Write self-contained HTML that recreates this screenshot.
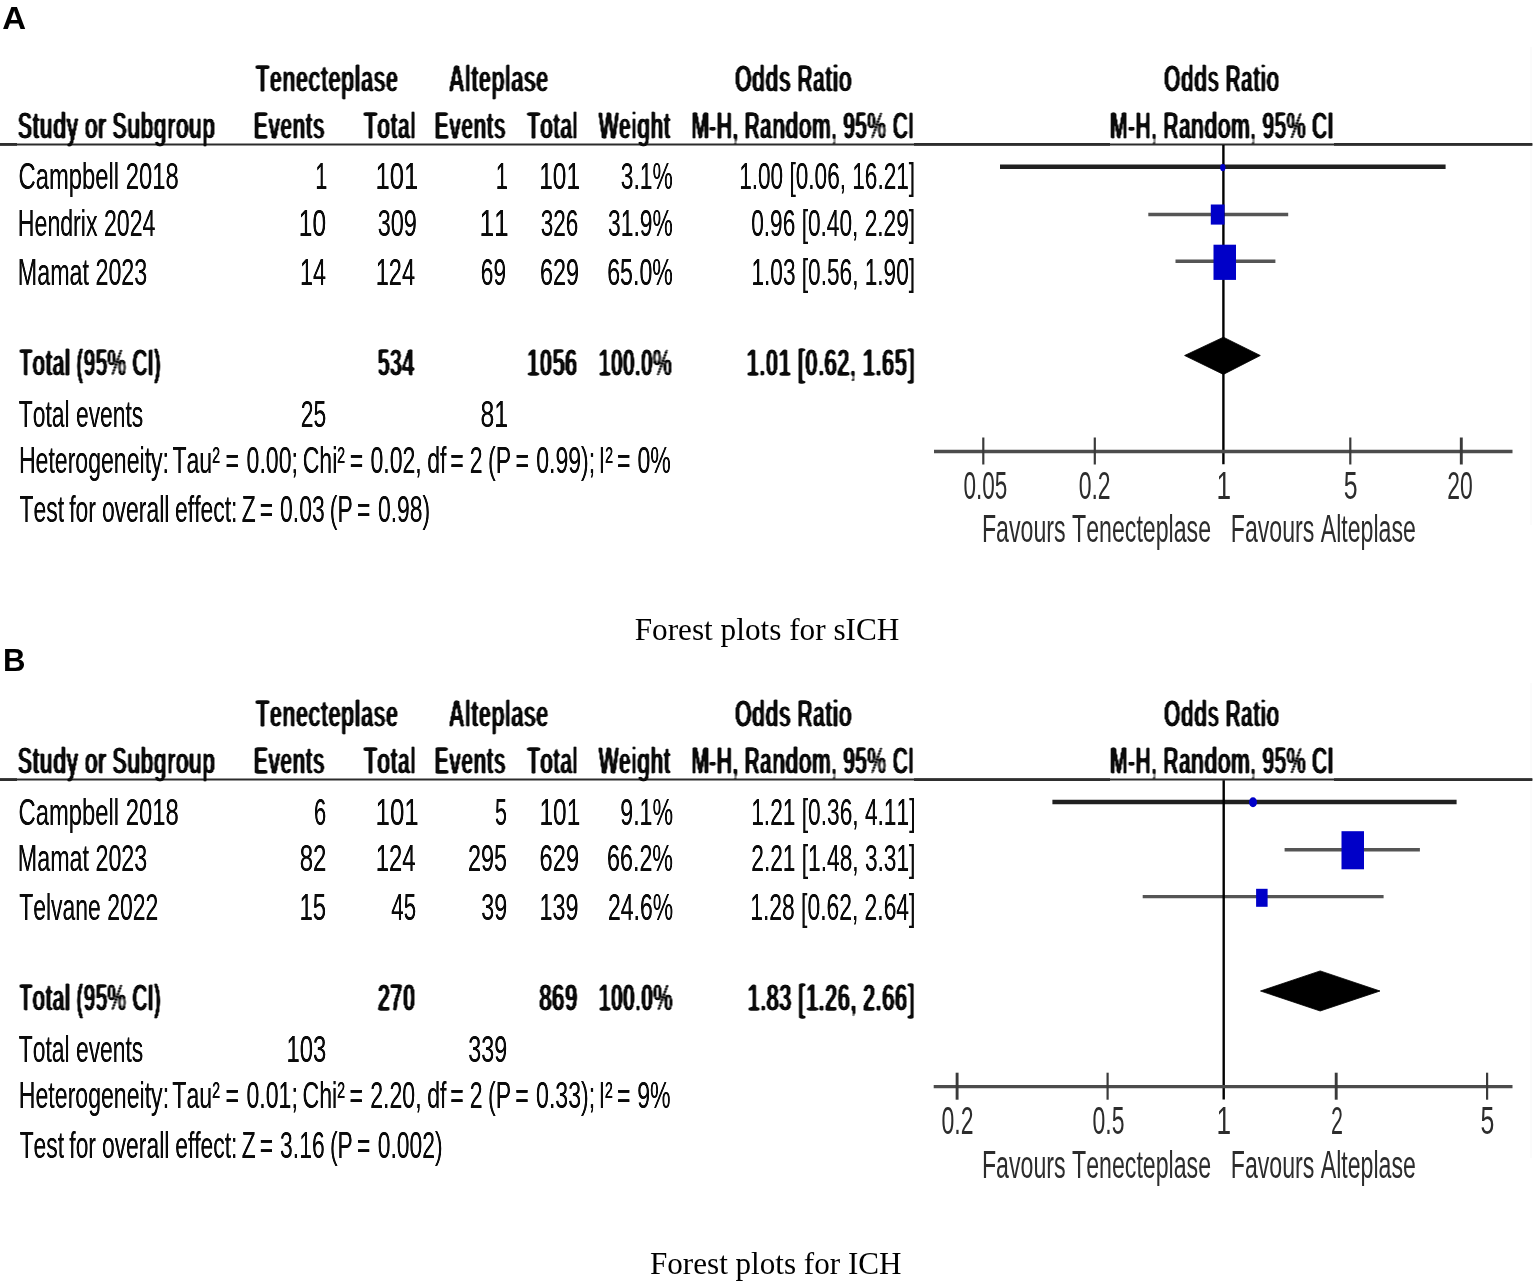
<!DOCTYPE html>
<html lang="en"><head><meta charset="utf-8"><title>Forest plots for sICH and ICH</title>
<style>
html,body{margin:0;padding:0;background:#fff;}
body{width:1535px;height:1284px;overflow:hidden;}
svg{display:block;}
text{font-kerning:none;font-variant-ligatures:none;white-space:pre;}
.r{font-family:"Liberation Sans",Arial,Helvetica,sans-serif;font-weight:400;}
.b{font-family:"Liberation Sans",Arial,Helvetica,sans-serif;font-weight:700;}
.s{font-family:"Liberation Serif","Times New Roman",Times,serif;font-weight:400;}
</style></head>
<body>
<svg width="1535" height="1284" viewBox="0 0 1535 1284">
<defs>
<filter id="fr" x="0" y="0" width="1535" height="1284" filterUnits="userSpaceOnUse" color-interpolation-filters="sRGB">
<feGaussianBlur stdDeviation="0.7 0.25"/>
<feComponentTransfer><feFuncA type="linear" slope="1.3" intercept="0"/></feComponentTransfer>
<feGaussianBlur stdDeviation="0.65"/>
</filter>
<filter id="fb" x="0" y="0" width="1535" height="1284" filterUnits="userSpaceOnUse" color-interpolation-filters="sRGB">
<feGaussianBlur stdDeviation="0 0.8"/>
<feComponentTransfer><feFuncA type="linear" slope="2.5" intercept="-1.2"/></feComponentTransfer>
<feGaussianBlur stdDeviation="0.8 0"/>
<feComponentTransfer><feFuncA type="linear" slope="2.2" intercept="-0.27"/></feComponentTransfer>
<feGaussianBlur stdDeviation="0.65"/>
</filter>
<filter id="fg" x="0" y="0" width="1535" height="1284" filterUnits="userSpaceOnUse" color-interpolation-filters="sRGB">
<feGaussianBlur stdDeviation="0.7"/>
</filter>
<filter id="fl" x="0" y="0" width="1535" height="1284" filterUnits="userSpaceOnUse" color-interpolation-filters="sRGB">
<feGaussianBlur stdDeviation="0.55"/>
</filter>
</defs>
<rect x="0" y="0" width="1535" height="1284" fill="#ffffff"/>
<g id="graphics" filter="url(#fg)">
<rect x="1530.0" y="47.0" width="2.0" height="478.0" fill="#fbfbfb"/>
<rect x="1530.0" y="683.0" width="2.0" height="475.0" fill="#fbfbfb"/>
<line x1="0.0" y1="144.4" x2="1532.3" y2="144.4" stroke="#2c2c2c" stroke-width="2.0"/>
<line x1="0.0" y1="144.4" x2="17.0" y2="144.4" stroke="#2e2e2e" stroke-width="2.8"/>
<line x1="914.0" y1="144.4" x2="1110.0" y2="144.4" stroke="#2e2e2e" stroke-width="2.8"/>
<line x1="1334.0" y1="144.4" x2="1532.3" y2="144.4" stroke="#2e2e2e" stroke-width="2.8"/>
<line x1="1000.0" y1="166.7" x2="1445.6" y2="166.7" stroke="#202020" stroke-width="4.4"/>
<line x1="1148.3" y1="214.5" x2="1288.2" y2="214.5" stroke="#555555" stroke-width="3.4"/>
<line x1="1175.5" y1="261.2" x2="1275.4" y2="261.2" stroke="#555555" stroke-width="3.4"/>
<line x1="1223.4" y1="145.0" x2="1223.4" y2="464.3" stroke="#000000" stroke-width="2.4"/>
<line x1="934.0" y1="451.5" x2="1512.5" y2="451.5" stroke="#4c4c4c" stroke-width="3.3"/>
<line x1="983.3" y1="437.5" x2="983.3" y2="464.5" stroke="#3a3a3a" stroke-width="2.2"/>
<line x1="1094.8" y1="437.5" x2="1094.8" y2="464.5" stroke="#3a3a3a" stroke-width="2.2"/>
<line x1="1350.3" y1="437.5" x2="1350.3" y2="464.5" stroke="#3a3a3a" stroke-width="2.2"/>
<line x1="1461.3" y1="437.5" x2="1461.3" y2="464.5" stroke="#3a3a3a" stroke-width="2.9"/>
<ellipse cx="1222.8" cy="167.6" rx="2.7" ry="3.6" fill="#0000c8"/>
<rect x="1210.8" y="204.5" width="13.7" height="20.1" fill="#0000c8"/>
<rect x="1213.5" y="244.7" width="22.5" height="35.2" fill="#0000c8"/>
<polygon points="1184.6,355.5 1223.4,337.2 1260.3,355.5 1223.4,374.4" fill="#000" stroke="#000" stroke-width="0.8" stroke-linejoin="round"/>
<line x1="0.0" y1="779.6" x2="1532.3" y2="779.6" stroke="#2c2c2c" stroke-width="2.0"/>
<line x1="0.0" y1="779.6" x2="17.0" y2="779.6" stroke="#2e2e2e" stroke-width="2.8"/>
<line x1="914.0" y1="779.6" x2="1110.0" y2="779.6" stroke="#2e2e2e" stroke-width="2.8"/>
<line x1="1334.0" y1="779.6" x2="1532.3" y2="779.6" stroke="#2e2e2e" stroke-width="2.8"/>
<line x1="1052.4" y1="802.0" x2="1456.6" y2="802.0" stroke="#202020" stroke-width="4.4"/>
<line x1="1284.6" y1="849.7" x2="1419.9" y2="849.7" stroke="#555555" stroke-width="3.4"/>
<line x1="1142.7" y1="896.6" x2="1383.6" y2="896.6" stroke="#555555" stroke-width="3.4"/>
<line x1="1223.7" y1="780.2" x2="1223.7" y2="1099.5" stroke="#000000" stroke-width="2.4"/>
<line x1="933.7" y1="1086.7" x2="1512.5" y2="1086.7" stroke="#4c4c4c" stroke-width="3.3"/>
<line x1="957.1" y1="1072.7" x2="957.1" y2="1099.7" stroke="#3a3a3a" stroke-width="2.9"/>
<line x1="1107.6" y1="1072.7" x2="1107.6" y2="1099.7" stroke="#3a3a3a" stroke-width="2.2"/>
<line x1="1336.2" y1="1072.7" x2="1336.2" y2="1099.7" stroke="#3a3a3a" stroke-width="2.9"/>
<line x1="1487.1" y1="1072.7" x2="1487.1" y2="1099.7" stroke="#3a3a3a" stroke-width="2.2"/>
<ellipse cx="1253" cy="802.3" rx="4" ry="5" fill="#0000c8"/>
<rect x="1341.5" y="831.2" width="22.5" height="38.1" fill="#0000c8"/>
<rect x="1256.1" y="888.8" width="11.5" height="18.0" fill="#0000c8"/>
<polygon points="1260.5,991 1320.2,970.9 1380,991 1320.2,1011" fill="#000" stroke="#000" stroke-width="0.8" stroke-linejoin="round"/>
</g>
<g id="labels-regular" filter="url(#fr)">
<text class="r" font-size="37.6" fill="#0b0b0b" transform="translate(18.51 189.40) scale(0.6337 1)">Campbell 2018</text>
<text class="r" font-size="37.6" fill="#0b0b0b" transform="translate(315.33 189.40) scale(0.5791 1)">1</text>
<text class="r" font-size="37.6" fill="#0b0b0b" transform="translate(375.57 189.40) scale(0.6815 1)">101</text>
<text class="r" font-size="37.6" fill="#0b0b0b" transform="translate(495.63 189.40) scale(0.5791 1)">1</text>
<text class="r" font-size="37.6" fill="#0b0b0b" transform="translate(539.28 189.40) scale(0.6502 1)">101</text>
<text class="r" font-size="37.6" fill="#0b0b0b" transform="translate(620.79 189.40) scale(0.6079 1)">3.1%</text>
<text class="r" font-size="37.6" fill="#0b0b0b" transform="translate(739.15 189.40) scale(0.6014 1)">1.00 [0.06, 16.21]</text>
<text class="r" font-size="37.6" fill="#0b0b0b" transform="translate(17.85 235.90) scale(0.6149 1)">Hendrix 2024</text>
<text class="r" font-size="37.6" fill="#0b0b0b" transform="translate(298.87 235.90) scale(0.6513 1)">10</text>
<text class="r" font-size="37.6" fill="#0b0b0b" transform="translate(377.66 235.90) scale(0.6245 1)">309</text>
<text class="r" font-size="37.6" fill="#0b0b0b" transform="translate(479.50 235.90) scale(0.6988 1)">11</text>
<text class="r" font-size="37.6" fill="#0b0b0b" transform="translate(540.70 235.90) scale(0.5990 1)">326</text>
<text class="r" font-size="37.6" fill="#0b0b0b" transform="translate(608.09 235.90) scale(0.6080 1)">31.9%</text>
<text class="r" font-size="37.6" fill="#0b0b0b" transform="translate(751.19 235.90) scale(0.6033 1)">0.96 [0.40, 2.29]</text>
<text class="r" font-size="37.6" fill="#0b0b0b" transform="translate(17.84 284.60) scale(0.6194 1)">Mamat 2023</text>
<text class="r" font-size="37.6" fill="#0b0b0b" transform="translate(299.98 284.60) scale(0.6210 1)">14</text>
<text class="r" font-size="37.6" fill="#0b0b0b" transform="translate(375.76 284.60) scale(0.6269 1)">124</text>
<text class="r" font-size="37.6" fill="#0b0b0b" transform="translate(480.87 284.60) scale(0.6027 1)">69</text>
<text class="r" font-size="37.6" fill="#0b0b0b" transform="translate(540.03 284.60) scale(0.6217 1)">629</text>
<text class="r" font-size="37.6" fill="#0b0b0b" transform="translate(607.24 284.60) scale(0.6161 1)">65.0%</text>
<text class="r" font-size="37.6" fill="#0b0b0b" transform="translate(751.45 284.60) scale(0.6024 1)">1.03 [0.56, 1.90]</text>
<text class="r" font-size="37.6" fill="#0b0b0b" transform="translate(18.74 426.60) scale(0.6084 1)">Total events</text>
<text class="r" font-size="37.6" fill="#0b0b0b" transform="translate(300.65 426.60) scale(0.6101 1)">25</text>
<text class="r" font-size="37.6" fill="#0b0b0b" transform="translate(480.49 426.60) scale(0.6579 1)">81</text>
<text class="r" font-size="37.6" fill="#0b0b0b" transform="translate(18.51 824.60) scale(0.6337 1)">Campbell 2018</text>
<text class="r" font-size="37.6" fill="#0b0b0b" transform="translate(313.90 824.60) scale(0.5834 1)">6</text>
<text class="r" font-size="37.6" fill="#0b0b0b" transform="translate(375.54 824.60) scale(0.6874 1)">101</text>
<text class="r" font-size="37.6" fill="#0b0b0b" transform="translate(494.94 824.60) scale(0.5711 1)">5</text>
<text class="r" font-size="37.6" fill="#0b0b0b" transform="translate(539.48 824.60) scale(0.6502 1)">101</text>
<text class="r" font-size="37.6" fill="#0b0b0b" transform="translate(620.26 824.60) scale(0.6165 1)">9.1%</text>
<text class="r" font-size="37.6" fill="#0b0b0b" transform="translate(751.24 824.60) scale(0.6046 1)">1.21 [0.36, 4.11]</text>
<text class="r" font-size="37.6" fill="#0b0b0b" transform="translate(17.84 871.10) scale(0.6194 1)">Mamat 2023</text>
<text class="r" font-size="37.6" fill="#0b0b0b" transform="translate(299.72 871.10) scale(0.6393 1)">82</text>
<text class="r" font-size="37.6" fill="#0b0b0b" transform="translate(375.74 871.10) scale(0.6338 1)">124</text>
<text class="r" font-size="37.6" fill="#0b0b0b" transform="translate(468.03 871.10) scale(0.6214 1)">295</text>
<text class="r" font-size="37.6" fill="#0b0b0b" transform="translate(539.62 871.10) scale(0.6285 1)">629</text>
<text class="r" font-size="37.6" fill="#0b0b0b" transform="translate(607.03 871.10) scale(0.6199 1)">66.2%</text>
<text class="r" font-size="37.6" fill="#0b0b0b" transform="translate(751.26 871.10) scale(0.6042 1)">2.21 [1.48, 3.31]</text>
<text class="r" font-size="37.6" fill="#0b0b0b" transform="translate(19.24 919.80) scale(0.6101 1)">Telvane 2022</text>
<text class="r" font-size="37.6" fill="#0b0b0b" transform="translate(299.52 919.80) scale(0.6383 1)">15</text>
<text class="r" font-size="37.6" fill="#0b0b0b" transform="translate(391.25 919.80) scale(0.5927 1)">45</text>
<text class="r" font-size="37.6" fill="#0b0b0b" transform="translate(481.17 919.80) scale(0.6201 1)">39</text>
<text class="r" font-size="37.6" fill="#0b0b0b" transform="translate(539.58 919.80) scale(0.6226 1)">139</text>
<text class="r" font-size="37.6" fill="#0b0b0b" transform="translate(608.05 919.80) scale(0.6103 1)">24.6%</text>
<text class="r" font-size="37.6" fill="#0b0b0b" transform="translate(750.23 919.80) scale(0.6080 1)">1.28 [0.62, 2.64]</text>
<text class="r" font-size="37.6" fill="#0b0b0b" transform="translate(18.74 1061.80) scale(0.6084 1)">Total events</text>
<text class="r" font-size="37.6" fill="#0b0b0b" transform="translate(286.43 1061.80) scale(0.6345 1)">103</text>
<text class="r" font-size="37.6" fill="#0b0b0b" transform="translate(468.27 1061.80) scale(0.6194 1)">339</text>
<text class="r" font-size="37.6" fill="#0b0b0b" transform="translate(0 473.00) scale(0.6139 1)"><tspan x="30.87">Heterogeneity:</tspan> <tspan x="280.81">Tau²</tspan> <tspan x="367.43">=</tspan> <tspan x="401.64">0.00;</tspan> <tspan x="492.99">Chi²</tspan> <tspan x="569.59">=</tspan> <tspan x="603.40">0.02,</tspan> <tspan x="695.93">df</tspan> <tspan x="733.56">=</tspan> <tspan x="765.32">2</tspan> <tspan x="795.04">(P</tspan> <tspan x="839.61">=</tspan> <tspan x="873.46">0.99);</tspan> <tspan x="975.38">I²</tspan> <tspan x="1005.12">=</tspan> <tspan x="1038.30">0%</tspan></text>
<text class="r" font-size="37.6" fill="#0b0b0b" transform="translate(0 522.40) scale(0.6094 1)"><tspan x="32.16">Test</tspan> <tspan x="113.63">for</tspan> <tspan x="167.19">overall</tspan> <tspan x="287.33">effect:</tspan> <tspan x="396.69">Z</tspan> <tspan x="426.29">=</tspan> <tspan x="459.54">0.03</tspan> <tspan x="541.28">(P</tspan> <tspan x="585.70">=</tspan> <tspan x="620.26">0.98)</tspan></text>
<text class="r" font-size="37.6" fill="#0b0b0b" transform="translate(0 1108.20) scale(0.6147 1)"><tspan x="30.65">Heterogeneity:</tspan> <tspan x="280.35">Tau²</tspan> <tspan x="366.89">=</tspan> <tspan x="401.01">0.01;</tspan> <tspan x="492.24">Chi²</tspan> <tspan x="568.76">=</tspan> <tspan x="602.29">2.20,</tspan> <tspan x="694.91">df</tspan> <tspan x="732.49">=</tspan> <tspan x="764.21">2</tspan> <tspan x="793.88">(P</tspan> <tspan x="838.39">=</tspan> <tspan x="872.15">0.33);</tspan> <tspan x="973.97">I²</tspan> <tspan x="1003.66">=</tspan> <tspan x="1036.68">9%</tspan></text>
<text class="r" font-size="37.6" fill="#0b0b0b" transform="translate(0 1157.60) scale(0.6080 1)"><tspan x="32.32">Test</tspan> <tspan x="113.95">for</tspan> <tspan x="167.71">overall</tspan> <tspan x="288.12">effect:</tspan> <tspan x="397.65">Z</tspan> <tspan x="427.31">=</tspan> <tspan x="460.71">3.16</tspan> <tspan x="542.59">(P</tspan> <tspan x="587.09">=</tspan> <tspan x="621.24">0.002)</tspan></text>
</g>
<g id="labels-bold" filter="url(#fb)">
<text class="b" font-size="38.916" fill="#0b0b0b" transform="translate(255.78 91.50) scale(0.5781 1)">Tenecteplase</text>
<text class="b" font-size="38.916" fill="#0b0b0b" transform="translate(448.44 91.50) scale(0.5790 1)">Alteplase</text>
<text class="b" font-size="38.916" fill="#0b0b0b" transform="translate(734.72 91.50) scale(0.5648 1)">Odds Ratio</text>
<text class="b" font-size="38.916" fill="#0b0b0b" transform="translate(1163.83 91.50) scale(0.5570 1)">Odds Ratio</text>
<text class="b" font-size="38.916" fill="#0b0b0b" transform="translate(17.74 138.50) scale(0.5611 1)">Study or Subgroup</text>
<text class="b" font-size="38.916" fill="#0b0b0b" transform="translate(253.69 138.50) scale(0.5576 1)">Events</text>
<text class="b" font-size="38.916" fill="#0b0b0b" transform="translate(363.68 138.50) scale(0.5640 1)">Total</text>
<text class="b" font-size="38.916" fill="#0b0b0b" transform="translate(434.59 138.50) scale(0.5576 1)">Events</text>
<text class="b" font-size="38.916" fill="#0b0b0b" transform="translate(526.89 138.50) scale(0.5506 1)">Total</text>
<text class="b" font-size="38.916" fill="#0b0b0b" transform="translate(598.40 138.50) scale(0.5573 1)">Weight</text>
<text class="b" font-size="38.916" fill="#0b0b0b" transform="translate(691.19 138.50) scale(0.5572 1)">M-H, Random, 95% CI</text>
<text class="b" font-size="38.916" fill="#0b0b0b" transform="translate(1109.78 138.50) scale(0.5600 1)">M-H, Random, 95% CI</text>
<text class="b" font-size="38.916" fill="#0b0b0b" transform="translate(19.19 375.90) scale(0.5508 1)">Total (95% CI)</text>
<text class="b" font-size="38.916" fill="#0b0b0b" transform="translate(377.54 375.90) scale(0.5660 1)">534</text>
<text class="b" font-size="38.916" fill="#0b0b0b" transform="translate(526.82 375.90) scale(0.5853 1)">1056</text>
<text class="b" font-size="38.916" fill="#0b0b0b" transform="translate(598.59 375.90) scale(0.5575 1)">100.0%</text>
<text class="b" font-size="38.916" fill="#0b0b0b" transform="translate(746.31 375.90) scale(0.5909 1)">1.01 [0.62, 1.65]</text>
<text class="b" font-size="38.916" fill="#0b0b0b" transform="translate(255.78 726.70) scale(0.5781 1)">Tenecteplase</text>
<text class="b" font-size="38.916" fill="#0b0b0b" transform="translate(448.44 726.70) scale(0.5790 1)">Alteplase</text>
<text class="b" font-size="38.916" fill="#0b0b0b" transform="translate(734.72 726.70) scale(0.5648 1)">Odds Ratio</text>
<text class="b" font-size="38.916" fill="#0b0b0b" transform="translate(1163.83 726.70) scale(0.5570 1)">Odds Ratio</text>
<text class="b" font-size="38.916" fill="#0b0b0b" transform="translate(17.74 773.70) scale(0.5611 1)">Study or Subgroup</text>
<text class="b" font-size="38.916" fill="#0b0b0b" transform="translate(253.69 773.70) scale(0.5576 1)">Events</text>
<text class="b" font-size="38.916" fill="#0b0b0b" transform="translate(363.68 773.70) scale(0.5640 1)">Total</text>
<text class="b" font-size="38.916" fill="#0b0b0b" transform="translate(434.59 773.70) scale(0.5576 1)">Events</text>
<text class="b" font-size="38.916" fill="#0b0b0b" transform="translate(526.89 773.70) scale(0.5506 1)">Total</text>
<text class="b" font-size="38.916" fill="#0b0b0b" transform="translate(598.40 773.70) scale(0.5573 1)">Weight</text>
<text class="b" font-size="38.916" fill="#0b0b0b" transform="translate(691.19 773.70) scale(0.5572 1)">M-H, Random, 95% CI</text>
<text class="b" font-size="38.916" fill="#0b0b0b" transform="translate(1109.78 773.70) scale(0.5600 1)">M-H, Random, 95% CI</text>
<text class="b" font-size="38.916" fill="#0b0b0b" transform="translate(19.19 1011.10) scale(0.5508 1)">Total (95% CI)</text>
<text class="b" font-size="38.916" fill="#0b0b0b" transform="translate(377.40 1011.10) scale(0.5867 1)">270</text>
<text class="b" font-size="38.916" fill="#0b0b0b" transform="translate(538.90 1011.10) scale(0.5958 1)">869</text>
<text class="b" font-size="38.916" fill="#0b0b0b" transform="translate(598.58 1011.10) scale(0.5606 1)">100.0%</text>
<text class="b" font-size="38.916" fill="#0b0b0b" transform="translate(747.21 1011.10) scale(0.5877 1)">1.83 [1.26, 2.66]</text>
</g>
<g id="labels-axis" filter="url(#fl)">
<text class="r" font-size="39.2" fill="#2c2c2c" transform="translate(963.40 498.50) scale(0.5745 1)">0.05</text>
<text class="r" font-size="39.2" fill="#2c2c2c" transform="translate(1078.68 498.50) scale(0.5867 1)">0.2</text>
<text class="r" font-size="39.2" fill="#2c2c2c" transform="translate(1216.41 498.50) scale(0.6686 1)">1</text>
<text class="r" font-size="39.2" fill="#2c2c2c" transform="translate(1343.81 498.50) scale(0.6337 1)">5</text>
<text class="r" font-size="39.2" fill="#2c2c2c" transform="translate(1447.25 498.50) scale(0.5849 1)">20</text>
<text class="r" font-size="39.2" fill="#2c2c2c" transform="translate(981.95 542.30) scale(0.5909 1)">Favours Tenecteplase</text>
<text class="r" font-size="39.2" fill="#2c2c2c" transform="translate(1230.75 542.30) scale(0.5898 1)">Favours Alteplase</text>
<text class="r" font-size="39.2" fill="#2c2c2c" transform="translate(941.58 1133.70) scale(0.5867 1)">0.2</text>
<text class="r" font-size="39.2" fill="#2c2c2c" transform="translate(1092.58 1133.70) scale(0.5862 1)">0.5</text>
<text class="r" font-size="39.2" fill="#2c2c2c" transform="translate(1216.41 1133.70) scale(0.6686 1)">1</text>
<text class="r" font-size="39.2" fill="#2c2c2c" transform="translate(1331.02 1133.70) scale(0.5495 1)">2</text>
<text class="r" font-size="39.2" fill="#2c2c2c" transform="translate(1480.61 1133.70) scale(0.6337 1)">5</text>
<text class="r" font-size="39.2" fill="#2c2c2c" transform="translate(981.95 1177.50) scale(0.5909 1)">Favours Tenecteplase</text>
<text class="r" font-size="39.2" fill="#2c2c2c" transform="translate(1230.75 1177.50) scale(0.5898 1)">Favours Alteplase</text>
</g>
<g id="captions">
<text class="b" font-size="32.1" fill="#000" transform="translate(2.28 29.10) scale(1.0276 1)">A</text>
<text class="b" font-size="32.1" fill="#000" transform="translate(3.08 671.00) scale(0.9703 1)">B</text>
<text class="s" font-size="32.6" fill="#000" transform="translate(634.66 640.20) scale(0.9587 1)">Forest plots for sICH</text>
<text class="s" font-size="32.6" fill="#000" transform="translate(649.97 1274.40) scale(0.9552 1)">Forest plots for ICH</text>
</g>
</svg>
</body></html>
